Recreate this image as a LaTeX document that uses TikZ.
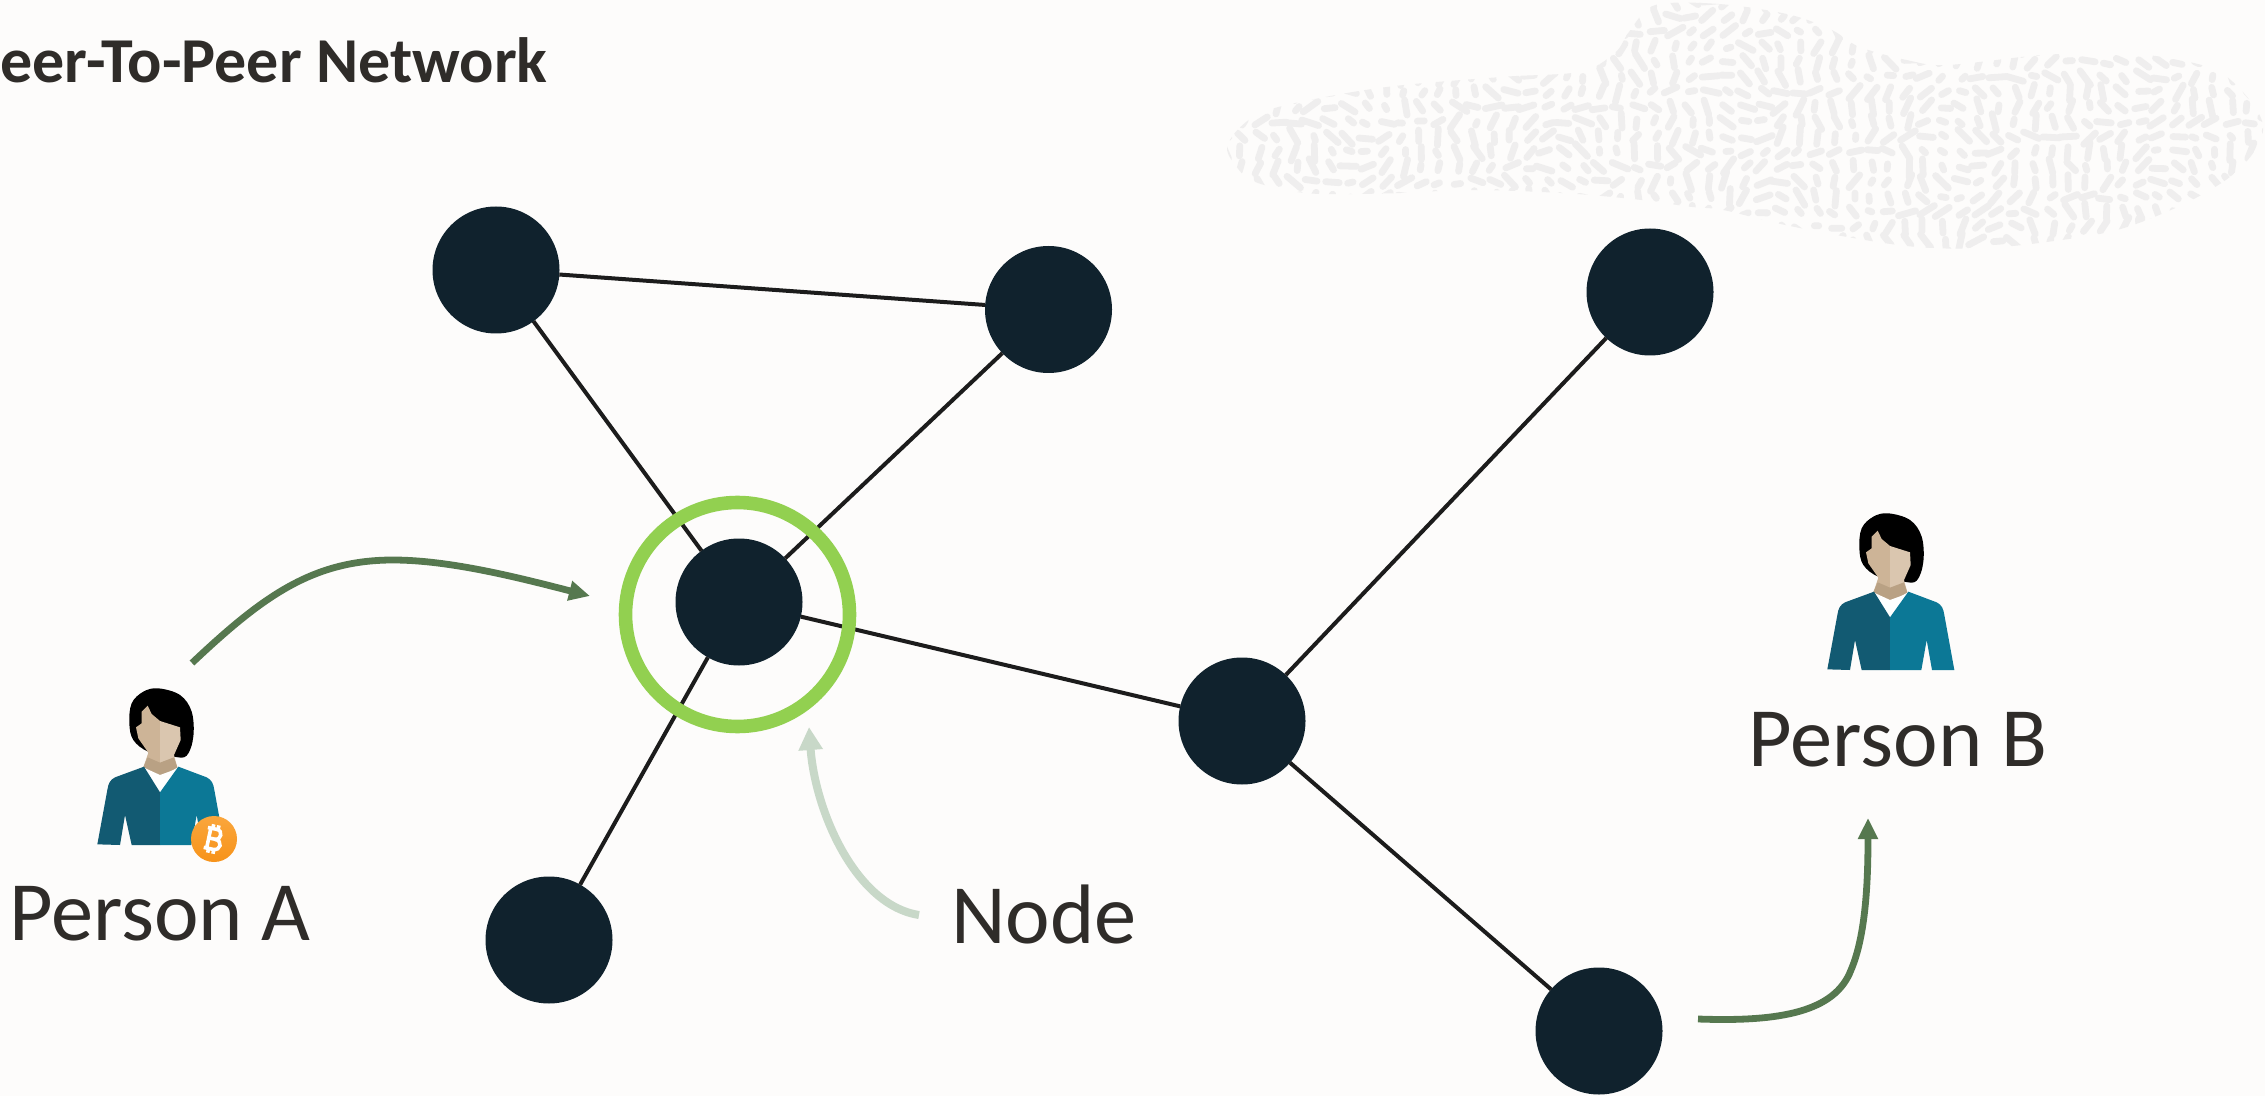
\documentclass[tikz,border=0pt]{standalone}
\usepackage{fontspec}
\setmainfont{Carlito}
\usetikzlibrary{arrows.meta}
\definecolor{bgc}{HTML}{FDFCFB}
\definecolor{nodec}{HTML}{10222D}
\definecolor{ringc}{HTML}{92D050}
\definecolor{linec}{HTML}{1C1C1C}
\definecolor{greenc}{HTML}{56784F}
\definecolor{paleg}{HTML}{C8D8C8}
\definecolor{textc}{HTML}{2F2C29}
\definecolor{blobc}{HTML}{EFEEEE}
\definecolor{shirtL}{HTML}{125A72}
\definecolor{shirtR}{HTML}{0C7896}
\definecolor{skinL}{HTML}{CDB497}
\definecolor{skinR}{HTML}{DAC6AF}
\definecolor{skinS}{HTML}{B9A184}
\definecolor{btcA}{HTML}{FAA63C}
\definecolor{btcB}{HTML}{F7931A}
\tikzset{
  peer/.style={circle,fill=nodec,minimum size=63.5pt,inner sep=0pt,outer sep=0pt},
  ringnode/.style={circle,draw=ringc,line width=6.8pt,minimum size=112pt,inner sep=0pt,outer sep=0pt},
  link/.style={draw=linec,line width=2pt},
  flow/.style={draw=greenc,line width=3.4pt,-{Triangle[length=10.5pt,width=9.5pt]}},
  flowpale/.style={draw=paleg,line width=4pt,-{Triangle[length=11.5pt,width=11.5pt]}},
  label/.style={text=textc,font=\fontsize{42.2}{48}\selectfont,inner sep=0pt,anchor=base},
  titlelabel/.style={text=textc,font=\fontsize{32}{36}\selectfont\bfseries,inner sep=0pt,anchor=base east},
  iconscope/.style={x=0.16667pt,y=-0.16667pt},
  coinstroke/.style={draw=white,line width=1.8pt,line cap=butt}
}
\newcommand{\faceshape}{(443,197)--(455,222)--(480,243)--(540,262)--(542,300)--(522,345)--(532,382)--(480,412)--(430,382)--(445,338)--(415,295)--(408,262)--(425,250)--(425,215)--cycle}
\newcommand{\personicon}{%
  \fill[black] plot[smooth cycle,tension=0.6] coordinates {(475,145)(540,165)(575,215)(580,290)(560,347)(520,350)(445,335)(400,300)(388,250)(395,190)(430,155)};
  \begin{scope}
    \clip (300,150) rectangle (480,420);
    \fill[skinL] \faceshape;
  \end{scope}
  \begin{scope}
    \clip (480,150) rectangle (600,420);
    \fill[skinR] \faceshape;
  \end{scope}
  \fill[skinS] (443,352)--(480,368)--(522,352)--(532,382)--(480,412)--(430,382)--cycle;
  \fill[white] (432,383)--(480,405)--(535,385)--(480,457)--cycle;
  \fill[shirtL] (432,380)--(345,412) .. controls (330,420) and (325,430) .. (322,450)--(292,613)--(360,615)--(375,525)--(395,615)--(480,615)--(480,457)--cycle;
  \fill[shirtR] (535,380)--(620,412) .. controls (635,420) and (640,430) .. (643,450)--(673,615)--(606,615)--(590,525)--(574,615)--(480,615)--(480,457)--cycle;
}
\begin{document}
\begin{tikzpicture}[x=0.5pt,y=-0.5pt]
\useasboundingbox (0,0) rectangle (2265,1096);
\fill[bgc] (0,0) rectangle (2265,1096);

% textured blob
\begin{scope}[shift={(1200,0)}]
  \begin{scope}[x=0.33967pt,y=-0.16667pt]
    \clip plot[smooth cycle,tension=0.55] coordinates {(40,440)(60,380)(100,330)(200,285)(300,255)(450,230)(560,215)(610,160)(630,100)(660,25)(700,8)(780,15)(870,45)(930,90)(970,140)(1040,180)(1100,195)(1240,165)(1350,160)(1430,175)(1500,215)(1545,300)(1565,380)(1550,460)(1510,540)(1440,620)(1350,690)(1250,725)(1150,745)(1050,740)(950,710)(850,670)(770,630)(720,620)(650,600)(540,580)(400,570)(280,580)(160,580)(80,545)(50,490)};
    \begin{scope}[x=0.5pt,y=-0.5pt]
      \pgfmathsetseed{4217}
      \foreach \gx in {20,38,...,1065}{
        \foreach \gy in {0,15,...,255}{
          \pgfmathsetmacro{\px}{\gx+6*rnd}
          \pgfmathsetmacro{\py}{\gy+4*rnd}
          \pgfmathsetmacro{\ang}{80*sin(\gx*1.1+\gy*2.4)+45*sin(\gy*3.1-\gx*0.7)+30*rnd-15}
          \pgfmathsetmacro{\len}{2+7*rnd}
          \pgfmathsetmacro{\ddx}{\len*cos(\ang)}
          \pgfmathsetmacro{\ddy}{\len*sin(\ang)}
          \draw[blobc,line width=3.4pt,line cap=round] (\px-\ddx,\py-\ddy) -- (\px+\ddx,\py+\ddy);
        }
      }
    \end{scope}
  \end{scope}
\end{scope}

% peers
\node[peer] (n1) at (496,270) {};
\node[peer] (n2) at (1048.5,309.5) {};
\node[peer] (n3) at (1650,292) {};
\node[peer] (n4) at (739,602) {};
\node[peer] (n5) at (1242,721) {};
\node[peer] (n6) at (549,940) {};
\node[peer] (n7) at (1599,1031) {};

\draw[link] (n1) -- (n2);
\draw[link] (n1) -- (n4);
\draw[link] (n2) -- (n4);
\draw[link] (n4) -- (n5);
\draw[link] (n4) -- (n6);
\draw[link] (n3) -- (n5);
\draw[link] (n5) -- (n7);

\node[ringnode] (ring) at (737.5,614.5) {};

% texts
\node[titlelabel] (title) at (548,83) {eer-To-Peer Network};
\node[label] (pa) at (160,940) {Person A};
\node[label] (pb) at (1898,766) {Person B};
\node[label] (nl) at (1044,943) {Node};

% arrows
\coordinate (a1) at (192,663);
\coordinate (a2) at (590,596);
\draw[flow] (a1) .. controls (262,597) and (312,560) .. (393,560) .. controls (450,560) and (520,578) .. (a2);
\coordinate (b1) at (1698,1019);
\coordinate (b2) at (1868,818);
\draw[flow] (b1) .. controls (1780,1022) and (1835,1012) .. (1851,970) .. controls (1866,935) and (1868,880) .. (b2);
\coordinate (c1) at (919,915);
\coordinate (c2) at (809,727);
\draw[flowpale] (c1) .. controls (855,905) and (815,810) .. (c2);

% person icons
\begin{scope}[shift={(0,640)},iconscope]
  \personicon
  \shade[top color=btcA,bottom color=btcB] (642,597) circle (69);
  \begin{scope}[rotate around={-12:(642,597)}]
    \draw[coinstroke] (617,567)--(645,567) .. controls (664,567) and (664,597) .. (645,597)--(626,597);
    \draw[coinstroke] (645,597) .. controls (670,597) and (670,628) .. (645,628)--(617,628);
    \draw[coinstroke] (626,567)--(626,628);
    \draw[coinstroke] (632,554)--(632,567);
    \draw[coinstroke] (648,554)--(648,567);
    \draw[coinstroke] (632,628)--(632,641);
    \draw[coinstroke] (648,628)--(648,641);
  \end{scope}
\end{scope}
\begin{scope}[shift={(1730,465)},iconscope]
  \personicon
\end{scope}
\end{tikzpicture}
\end{document}
